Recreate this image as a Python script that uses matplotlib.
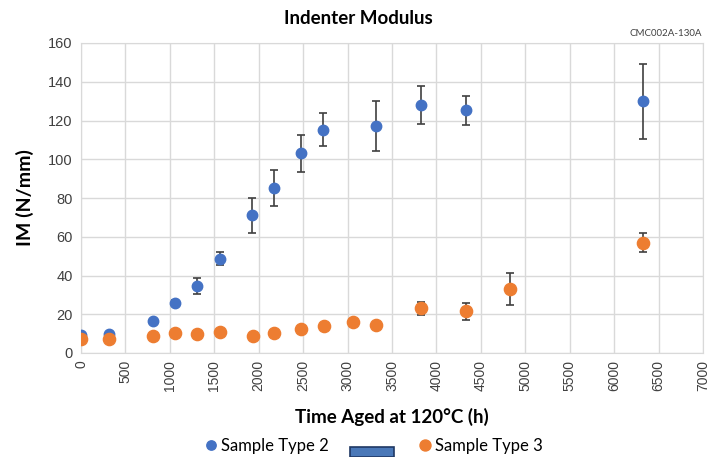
import matplotlib.pyplot as plt
from matplotlib.patches import Rectangle

plt.rcParams['font.family'] = ['Lato', 'DejaVu Sans']

# aging time (h) and indenter modulus (N/mm), mean +/- error
hours_t2 = [0, 310, 815, 1055, 1305, 1560, 1920, 2170, 2480, 2725, 3320, 3825, 4335, 6330]
im_t2 = [9.3, 9.8, 16.4, 26, 34.5, 48.7, 71, 85.3, 103, 115.3, 117.2, 128, 125.3, 130]
err_t2 = [0.5, 0.5, 0.6, 1.2, 4, 3.2, 8.9, 9.3, 9.7, 8.4, 13, 9.6, 7.6, 19.4]

hours_t3 = [0, 310, 815, 1055, 1305, 1560, 1935, 2170, 2480, 2730, 3060, 3320, 3825, 4335, 4830, 6330]
im_t3 = [7.2, 7.2, 9, 10.3, 9.8, 10.8, 9, 10.3, 12.2, 14.1, 15.8, 14.6, 23, 21.5, 33, 57]
err_t3 = [0.3, 0.3, 0.3, 0.3, 0.3, 0.3, 0.3, 0.3, 0.4, 0.5, 1.8, 0.5, 3.4, 4.3, 8.4, 5]

BLUE = '#4472C4'
ORANGE = '#ED7D31'

fig = plt.figure(figsize=(7.12, 4.57), dpi=100)
ax = fig.add_axes([81 / 712, 1 - 353 / 457, 622 / 712, 310 / 457])

ax.errorbar(hours_t2, im_t2, yerr=err_t2, fmt='o', color=BLUE, ms=7.5,
            ecolor='#404040', elinewidth=1.2, capsize=3, capthick=1.2,
            label='Sample Type 2', zorder=3)
ax.errorbar(hours_t3, im_t3, yerr=err_t3, fmt='o', color=ORANGE, ms=8.8,
            ecolor='#404040', elinewidth=1.2, capsize=3, capthick=1.2,
            label='Sample Type 3', zorder=4)

ax.set_xlim(0, 7000)
ax.set_ylim(0, 160)
ax.set_xticks(range(0, 7001, 500))
ax.set_yticks(range(0, 161, 20))
ax.tick_params(axis='x', labelrotation=90, labelsize=10, length=0, pad=5,
               colors='#404040', labelfontfamily='Liberation Sans')
ax.tick_params(axis='y', labelsize=10.5, length=0, pad=6,
               colors='#404040', labelfontfamily='Liberation Sans')
ax.grid(True, color='#d9d9d9', linewidth=1.0)
ax.set_axisbelow(True)
for s in ax.spines.values():
    s.set_color('#d9d9d9')

ax.set_xlabel('Time Aged at 120°C (h)', fontsize=13.5, fontweight='bold', labelpad=12)
ax.set_ylabel('IM (N/mm)', fontsize=14, fontweight='bold', labelpad=10)
fig.text(358 / 712, 1 - 18 / 457, 'Indenter Modulus', ha='center', va='center',
         fontsize=13.5, fontweight='bold')
fig.text(702 / 712, 1 - 34 / 457, 'CMC002A-130A', ha='right', va='center',
         fontsize=7, color='#404040')

handles, labels = ax.get_legend_handles_labels()
handles = [h[0] for h in handles]
fig.legend(handles, labels, loc='center', bbox_to_anchor=(372 / 712, 1 - 446 / 457),
           ncol=2, frameon=False, fontsize=12, handletextpad=0.0,
           columnspacing=5.2, handlelength=1.2, markerscale=0.9)

# small blue box below the legend
fig.patches.append(Rectangle((350 / 712, 0), 44 / 712, 10 / 457,
                             transform=fig.transFigure, facecolor='#4a78b8',
                             edgecolor='#1f3864', linewidth=1.2))

fig.savefig('out.png', dpi=100)
